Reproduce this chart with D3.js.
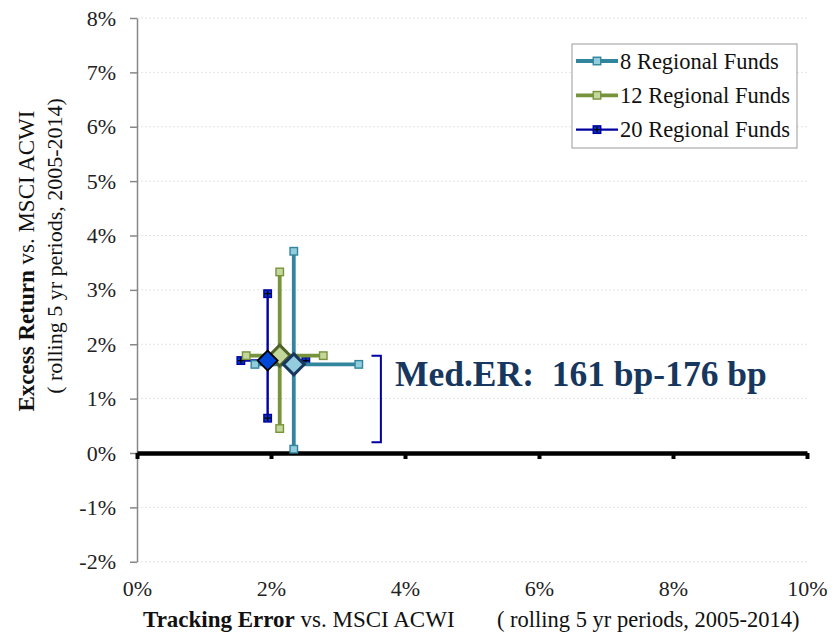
<!DOCTYPE html>
<html>
<head>
<meta charset="utf-8">
<script src="https://cdn.jsdelivr.net/npm/d3@7"></script>
<style>
  html, body { margin: 0; padding: 0; background: #fff; }
  svg { display: block; font-family: "Liberation Serif", "DejaVu Serif", serif; }
</style>
</head>
<body>
<svg id="chart" width="834" height="633"></svg>
<script>
// ---- data ----
const seriesNames = ["8 Regional Funds", "12 Regional Funds", "20 Regional Funds"];
const teMedian = [2.34, 2.13, 1.95];   // tracking error median (%)
const erMedian = [1.63, 1.79, 1.70];   // excess return median (%)
const erLow    = [0.07, 0.45, 0.64];
const erHigh   = [3.71, 3.33, 2.93];
const teLow    = [1.76, 1.63, 1.55];
const teHigh   = [3.31, 2.78, 2.52];
const xTicks = [0, 2, 4, 6, 8, 10];
const yTicks = [-2, -1, 0, 1, 2, 3, 4, 5, 6, 7, 8];
const annotationText = "Med.ER:  161 bp-176 bp";
const bracketRange = [0.2, 1.79];

// ---- styles ----
const styles = [
  { line: "#31859C", width: 3.8, sqFill: "#93CDDD", sqStroke: "#31859C", dFill: "#93CDDD", dStroke: "#17375E", plus: false },
  { line: "#77933C", width: 3.8, sqFill: "#C3D69B", sqStroke: "#77933C", dFill: "#C3D69B", dStroke: "#4F6228", plus: false },
  { line: "#0000A0", width: 2.4, sqFill: "#0033CC", sqStroke: "#0000A0", dFill: "#0047D6", dStroke: "#000000", plus: true }
];

const svg = d3.select("#chart");
const x = d3.scaleLinear().domain([0, 10]).range([137, 807]);
const y = d3.scaleLinear().domain([-2, 8]).range([561.75, 18]);

// gridlines
svg.append("g").selectAll("line").data(yTicks).join("line")
  .attr("x1", x(0)).attr("x2", x(10))
  .attr("y1", d => y(d)).attr("y2", d => y(d))
  .attr("stroke", "#e4e4e4").attr("stroke-width", 1).attr("stroke-dasharray", "2,2");

// y axis
const yAxis = svg.append("g").attr("transform", `translate(${x(0)},0)`)
  .call(d3.axisLeft(y).tickValues(yTicks).tickSize(7).tickSizeOuter(0).tickPadding(14).tickFormat(d => d + "%"));
yAxis.select(".domain").attr("stroke", "#888").attr("stroke-width", 1.5);
yAxis.selectAll(".tick line").attr("stroke", "#888").attr("stroke-width", 1.5);
yAxis.selectAll("text").attr("font-size", 22).attr("fill", "#222").attr("font-family", "Liberation Serif");

// x axis at zero line
const xAxis = svg.append("g").attr("transform", `translate(0,${y(0)})`)
  .call(d3.axisBottom(x).tickValues(xTicks).tickSize(6).tickSizeOuter(0).tickFormat(""));
xAxis.select(".domain").attr("stroke", "#000").attr("stroke-width", 4.5);
xAxis.selectAll(".tick line").attr("stroke", "#000").attr("stroke-width", 4);

// x tick labels at bottom
const xLab = svg.append("g").attr("transform", `translate(0,${y(-2)})`)
  .call(d3.axisBottom(x).tickValues(xTicks).tickSize(0).tickPadding(19).tickFormat(d => d + "%"));
xLab.select(".domain").remove();
xLab.selectAll("text").attr("font-size", 22).attr("fill", "#222").attr("font-family", "Liberation Serif");

// ---- series ----
function square(g, cx, cy, s) {
  const size = 7.5;
  g.append("rect").attr("x", cx - size / 2).attr("y", cy - size / 2)
    .attr("width", size).attr("height", size)
    .attr("fill", s.sqFill).attr("stroke", s.sqStroke).attr("stroke-width", 1.4);
  if (s.plus) {
    g.append("path").attr("d", `M${cx - 3},${cy}H${cx + 3}M${cx},${cy - 3}V${cy + 3}`)
      .attr("stroke", "#000").attr("stroke-width", 1.3);
  }
}

const drawOrder = [2, 1, 0];
drawOrder.forEach(i => {
  const s = styles[i];
  const g = svg.append("g");
  g.append("line").attr("x1", x(teLow[i])).attr("x2", x(teHigh[i]))
    .attr("y1", y(erMedian[i])).attr("y2", y(erMedian[i]))
    .attr("stroke", s.line).attr("stroke-width", s.width);
  g.append("line").attr("x1", x(teMedian[i])).attr("x2", x(teMedian[i]))
    .attr("y1", y(erLow[i])).attr("y2", y(erHigh[i]))
    .attr("stroke", s.line).attr("stroke-width", s.width);
  square(g, x(teLow[i]), y(erMedian[i]), s);
  square(g, x(teHigh[i]), y(erMedian[i]), s);
  square(g, x(teMedian[i]), y(erLow[i]), s);
  square(g, x(teMedian[i]), y(erHigh[i]), s);
});

// diamonds
[1, 2, 0].forEach(i => {
  const s = styles[i];
  const cx = x(teMedian[i]), cy = y(erMedian[i]), r = i === 2 ? 10 : 10.5;
  svg.append("path")
    .attr("d", `M${cx},${cy - r}L${cx + r},${cy}L${cx},${cy + r}L${cx - r},${cy}Z`)
    .attr("fill", s.dFill).attr("stroke", s.dStroke).attr("stroke-width", i === 2 ? 1.8 : 3);
});

// ---- bracket annotation ----
const bx = x(3.64), bxl = x(3.50);
svg.append("path")
  .attr("d", `M${bxl},${y(bracketRange[1])}H${bx}V${y(bracketRange[0])}H${bxl}`)
  .attr("fill", "none").attr("stroke", "#0000A0").attr("stroke-width", 2);
svg.append("text").attr("x", x(3.85)).attr("y", y(1.24))
  .attr("font-size", 35.5).attr("font-weight", "bold").attr("fill", "#17375E")
  .style("white-space", "pre").text(annotationText);

// ---- legend ----
const leg = svg.append("g");
leg.append("rect").attr("x", 572).attr("y", 44).attr("width", 225).attr("height", 104)
  .attr("fill", "#fff").attr("stroke", "#999").attr("stroke-width", 1);
seriesNames.forEach((name, i) => {
  const s = styles[i];
  const cy = 61 + i * 34.3;
  leg.append("line").attr("x1", 576).attr("x2", 618).attr("y1", cy).attr("y2", cy)
    .attr("stroke", s.line).attr("stroke-width", s.width);
  square(leg, 597, cy, s);
  leg.append("text").attr("x", 620).attr("y", cy + 7.5)
    .attr("font-size", 22.5).attr("fill", "#111").text(name);
});

// ---- axis titles ----
const xt = svg.append("text").attr("x", 143).attr("y", 627).attr("font-size", 23).attr("fill", "#111");
xt.append("tspan").attr("font-weight", "bold").text("Tracking Error");
xt.append("tspan").text(" vs. MSCI ACWI");
svg.append("text").attr("x", 497).attr("y", 627).attr("font-size", 22.5).attr("fill", "#111")
  .text("( rolling 5 yr periods, 2005-2014)");

const yt1 = svg.append("text").attr("transform", "translate(34,261) rotate(-90)")
  .attr("text-anchor", "middle").attr("font-size", 23).attr("fill", "#111");
yt1.append("tspan").attr("font-weight", "bold").text("Excess Return");
yt1.append("tspan").text(" vs. MSCI ACWI");
svg.append("text").attr("transform", "translate(62,246) rotate(-90)")
  .attr("text-anchor", "middle").attr("font-size", 22).attr("fill", "#111")
  .text("( rolling 5 yr periods, 2005-2014)");
</script>
</body>
</html>
